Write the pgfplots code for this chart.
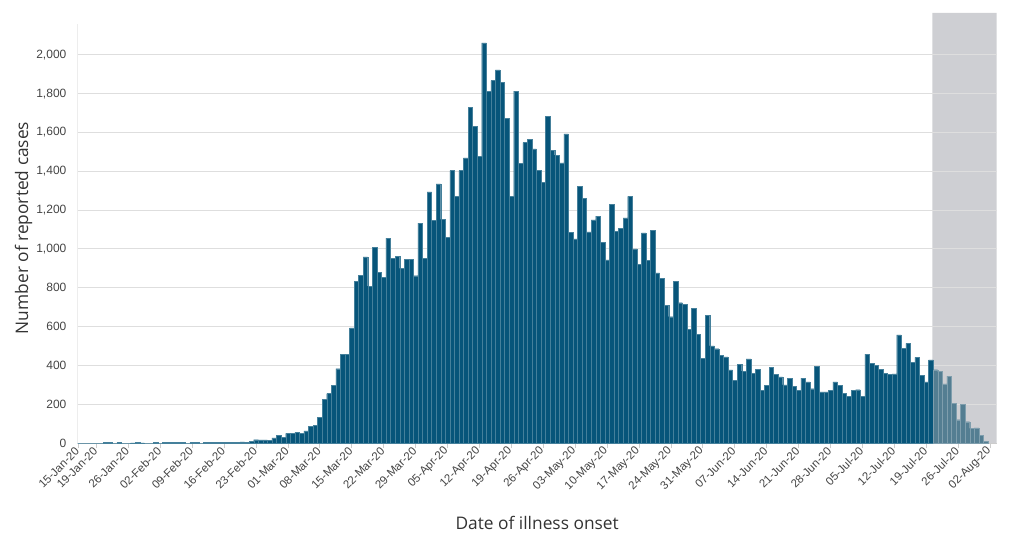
\documentclass[border=0pt]{standalone}
\usepackage{fontspec}
\setmainfont{Open Sans}
\newfontfamily\tickfont{Liberation Sans}
\usepackage{pgfplots}
\pgfplotsset{compat=1.18}
\definecolor{barblue}{HTML}{07557A}
\definecolor{barlight}{HTML}{547E92}
\definecolor{shadec}{HTML}{CECFD3}
\definecolor{gridc}{HTML}{DEDEDE}
\definecolor{axc}{HTML}{CCCCCC}
\definecolor{txt}{HTML}{333333}
\definecolor{ticktxt}{HTML}{444444}
\begin{document}
\begin{tikzpicture}
\begin{axis}[
  set layers,
  scale only axis,
  width=689.1pt, height=322.5pt,
  xmin=-0.1, xmax=201.4, ymin=0, ymax=2216,
  axis x line*=bottom, axis y line*=left,
  axis line style={-, draw=axc, line width=0.75pt},
  y axis line style={draw=none},
  ymajorgrids, grid style={draw=gridc, line width=0.75pt},
  ytick={0,200,...,2000},
  ytick style={draw=none},
  /pgf/number format/1000 sep={,},
  /pgf/number format/assume math mode=true,
  yticklabel style={font=\tickfont\fontsize{9}{10}\selectfont, text=ticktxt, xshift=-1pt},
  xtick={0,4,11,18,25,32,39,46,53,60,67,74,81,88,95,102,109,116,123,130,137,144,151,158,165,172,179,186,193,200},
  xticklabels={15-Jan-20,19-Jan-20,26-Jan-20,02-Feb-20,09-Feb-20,16-Feb-20,23-Feb-20,01-Mar-20,08-Mar-20,15-Mar-20,22-Mar-20,29-Mar-20,05-Apr-20,12-Apr-20,19-Apr-20,26-Apr-20,03-May-20,10-May-20,17-May-20,24-May-20,31-May-20,07-Jun-20,14-Jun-20,21-Jun-20,28-Jun-20,05-Jul-20,12-Jul-20,19-Jul-20,26-Jul-20,02-Aug-20},
  xticklabel style={font=\tickfont\fontsize{8.6}{10}\selectfont, text=ticktxt, rotate=45, anchor=east, inner sep=1pt},
  xtick style={draw=axc, line width=0.6pt},
  tick align=outside, major tick length=4pt,
  xlabel={Date of illness onset},
  ylabel={Number of reported cases},
  xlabel style={font=\fontsize{13}{15}\selectfont, text=txt, at={(axis description cs:0.5,-0.186)}, anchor=center},
  ylabel style={font=\fontsize{13}{15}\selectfont, text=txt, at={(axis description cs:-0.0588,0.5)}, anchor=center},
]
\addplot[fill=shadec, draw=none, on layer=axis background] coordinates {(187.3,0) (187.3,2216) (201.4,2216) (201.4,0)} \closedcycle;
\addplot[ybar, bar shift=0pt, bar width=1, fill=barblue, draw=barblue!75!white, line width=0.2pt] coordinates {
(0,0)(1,0)(2,0)(3,0)(4,0)(5,0)(6,2)(7,2)(8,0)(9,2)(10,0)(11,0)(12,1)(13,2)(14,1)(15,0)(16,0)(17,2)(18,0)(19,2)(20,3)(21,2)(22,2)(23,2)(24,0)(25,2)(26,2)(27,0)(28,2)(29,2)(30,4)(31,3)(32,3)(33,3)(34,3)(35,4)(36,6)(37,4)(38,10)(39,17)(40,16)(41,16)(42,15)(43,27)(44,38)(45,29)(46,50)(47,51)(48,55)(49,51)(50,63)(51,85)(52,90)(53,132)(54,226)(55,255)(56,297)(57,383)(58,456)(59,456)(60,593)(61,832)(62,863)(63,959)(64,808)(65,1009)(66,880)(67,855)(68,1056)(69,953)(70,963)(71,900)(72,946)(73,946)(74,862)(75,1133)(76,951)(77,1294)(78,1146)(79,1335)(80,1152)(81,1061)(82,1404)(83,1270)(84,1404)(85,1469)(86,1730)(87,1631)(88,1476)(89,2062)(90,1811)(91,1868)(92,1923)(93,1859)(94,1674)(95,1270)(96,1813)(97,1442)(98,1548)(99,1566)(100,1516)(101,1404)(102,1342)(103,1682)(104,1507)(105,1483)(106,1444)(107,1593)(108,1087)(109,1052)(110,1323)(111,1262)(112,1088)(113,1150)(114,1169)(115,1033)(116,944)(117,1231)(118,1090)(119,1105)(120,1160)(121,1271)(122,1001)(123,920)(124,1083)(125,942)(126,1095)(127,877)(128,848)(129,709)(130,651)(131,833)(132,723)(133,714)(134,586)(135,694)(136,559)(137,438)(138,659)(139,500)(140,486)(141,452)(142,444)(143,377)(144,324)(145,404)(146,370)(147,434)(148,358)(149,379)(150,273)(151,296)(152,391)(153,354)(154,341)(155,299)(156,332)(157,291)(158,273)(159,334)(160,315)(161,280)(162,394)(163,263)(164,263)(165,270)(166,315)(167,296)(168,256)(169,241)(170,273)(171,275)(172,241)(173,458)(174,411)(175,399)(176,380)(177,359)(178,353)(179,356)(180,557)(181,489)(182,513)(183,417)(184,441)(185,350)(186,315)(187,428)
};
\addplot[ybar, bar shift=0pt, bar width=1, fill=barlight, draw=barlight!75!white, line width=0.2pt] coordinates {
(188,378)(189,368)(190,305)(191,345)(192,204)(193,120)(194,198)(195,110)(196,75)(197,78)(198,40)(199,10)
};
\draw[axc, line width=0.75pt] (axis cs:-0.1,0) -- (axis cs:-0.1,2160);
\end{axis}
\pgfresetboundingbox
\path (current axis.south west) ++(-58.3pt,-78pt) rectangle ++(768pt,410.25pt);
\end{tikzpicture}
\end{document}
